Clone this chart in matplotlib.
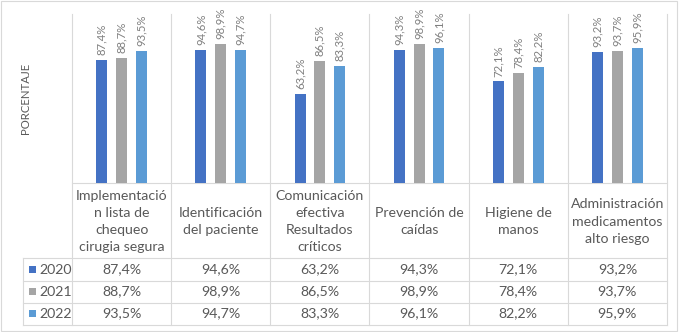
import matplotlib
matplotlib.use("Agg")
import matplotlib.pyplot as plt
from matplotlib.patches import Rectangle
from matplotlib.lines import Line2D
from matplotlib.transforms import blended_transform_factory
import numpy as np

categories = ["Implementació\nn lista de\nchequeo\ncirugia segura",
              "Identificación\ndel paciente",
              "Comunicación\nefectiva\nResultados\ncríticos",
              "Prevención de\ncaídas",
              "Higiene de\nmanos",
              "Administración\nmedicamentos\nalto riesgo"]
years = ["2020", "2021", "2022"]
v2020 = [87.4, 94.6, 63.2, 94.3, 72.1, 93.2]
v2021 = [88.7, 98.9, 86.5, 98.9, 78.4, 93.7]
v2022 = [93.5, 94.7, 83.3, 96.1, 82.2, 95.9]
y_label = "PORCENTAJE"

series = [v2020, v2021, v2022]
colors = ["#4472C4", "#A5A5A5", "#5B9BD5"]

plt.rcParams['font.family'] = ['Lato', 'DejaVu Sans']

W, H = 681, 332
fig = plt.figure(figsize=(W / 100, H / 100), dpi=100)
fig.patch.set_facecolor("white")

over = fig.add_axes([0, 0, 1, 1], zorder=0)
over.set_xlim(0, W)
over.set_ylim(H, 0)
over.set_autoscale_on(False)
over.axis('off')

ax = fig.add_axes([72 / W, (H - 183) / H, (667 - 72) / W, (183 - 14) / H], zorder=1)
ax.patch.set_alpha(0)
n = len(categories)
x = np.arange(n)
offs = [-0.2, 0.0, 0.2]
for vals, c, o in zip(series, colors, offs):
    bars = ax.bar(x + o, vals, width=0.11, color=c, zorder=2)
    for xi, v in zip(x + o, vals):
        ax.annotate(f"{v:.1f}%".replace(".", ","), (xi, v), xytext=(0, 3.5),
                    textcoords="offset points", rotation=90, ha="center",
                    va="bottom", fontsize=8.2, color="#7F7F7F")
ax.set_xlim(-0.5, n - 0.5)
ax.set_ylim(0, 120)
for s in ax.spines.values():
    s.set_visible(False)
ax.set_xticks([])
ax.set_yticks([])

grid = "#D9D9D9"
lw = 0.8
bt = blended_transform_factory(ax.transData, over.transData)

# vertical dividers
for b in np.arange(n + 1) - 0.5:
    over.add_line(Line2D([b, b], [14, 325], transform=bt, color=grid, lw=lw))
# horizontal line under bars
over.add_line(Line2D([-0.5, n - 0.5], [183, 183], transform=bt, color=grid, lw=lw))
# table row lines
x_right = ax.transData.transform((n - 0.5, 0))[0]
x_right = over.transData.inverted().transform((x_right, 0))[0]
for yy in [258, 280.5, 302.5, 325]:
    over.add_line(Line2D([23, x_right], [yy, yy], color=grid, lw=lw))
over.add_line(Line2D([23, 23], [258, 325], color=grid, lw=lw))

# outer border
over.add_patch(Rectangle((1, 1), 676, 329.5, fill=False, edgecolor=grid, lw=lw))

txt = "#595959"
for xi, cat in zip(x, categories):
    over.text(xi, 221.5, cat, transform=bt, ha="center", va="center",
              multialignment="center", fontsize=10.2, color=txt, linespacing=1.52)

row_y = [269.5, 291.5, 313.5]
for yy, yr, vals, c in zip(row_y, years, series, colors):
    over.add_patch(Rectangle((28.5, yy - 3.7), 7.5, 7.5, color=c, lw=0))
    over.text(39, yy, yr, ha="left", va="center", fontsize=10.2, color=txt)
    for xi, v in zip(x, vals):
        over.text(xi, yy, f"{v:.1f}%".replace(".", ","), transform=bt,
                  ha="center", va="center", fontsize=10.2, color=txt)

over.text(25, 98, y_label, rotation=90, ha="center", va="center",
          fontsize=8.2, color=txt)

fig.savefig("out.png", dpi=100)
